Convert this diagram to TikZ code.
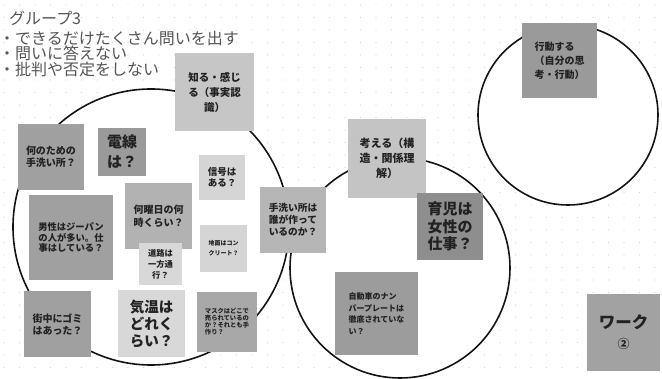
\documentclass[tikz,border=0pt]{standalone}
\usepackage{fontspec}
\newfontfamily\jp{Noto Sans CJK JP}
\definecolor{dotc}{HTML}{D4D4D4}
\definecolor{titlec}{HTML}{555555}
\definecolor{txt}{HTML}{222222}
\definecolor{cA}{HTML}{C6C6C6}
\definecolor{cB}{HTML}{A0A0A0}
\definecolor{cC}{HTML}{9A9A9A}
\definecolor{cD}{HTML}{B2B2B2}
\definecolor{cE}{HTML}{D5D5D5}
\definecolor{cF}{HTML}{D8D8D8}
\definecolor{cG}{HTML}{A8A8A8}
\definecolor{cH}{HTML}{B6B6B6}
\definecolor{cI}{HTML}{C4C4C4}
\definecolor{cJ}{HTML}{8E8E8E}
\definecolor{cK}{HTML}{9C9C9C}
\definecolor{cL}{HTML}{A2A2A2}
\newcommand{\myfs}[2]{\fontsize{#1pt}{#2pt}\selectfont}
\begin{document}
\begin{tikzpicture}[x=1pt,y=-1pt,
  ring/.style={circle, draw=black!92, line width=1.6pt, fill=white, inner sep=0pt},
  note/.style={rectangle, inner sep=0pt, align=center, text=txt},
  sz/.style 2 args={minimum width=#1pt, minimum height=#2pt},
  ttl/.style={anchor=west, inner sep=0pt, text=titlec, font=\jp\myfs{16}{18}}
]
\useasboundingbox (0,0) rectangle (662,379);
\fill[white] (0,0) rectangle (662,379);
% dot grid
\foreach \i in {0,...,42}{
  \foreach \j in {0,...,30}{
    \fill[dotc] (4+\i*15.5, 5+\j*12.5) circle (0.7pt);
  }
}
% circles
\node[ring, minimum size=276pt] (cl) at (151,227) {};
\node[ring, minimum size=220pt] (cm) at (400,268) {};
\node[ring, minimum size=180pt] (cr) at (568,115) {};
% title
\node[ttl] (t1) at (9,18.5) {グループ3};
\node[ttl] (t2) at (-1,38) {・できるだけたくさん問いを出す};
\node[ttl] (t3) at (-1,53.5) {・問いに答えない};
\node[ttl] (t4) at (-1,69) {・批判や否定をしない};
% notes
\node[note, sz={79}{78}, fill=cA, font=\jp\bfseries\myfs{10.5}{15}] (know) at (214.5,92) {知る・感じ\\る（事実認\\識）};
\node[note, sz={66}{66}, fill=cB, font=\jp\bfseries\myfs{10}{12}] (why) at (51,157) {何のための\\手洗い所？};
\node[note, sz={48}{48}, fill=cC, font=\jp\bfseries\myfs{15}{20}] (densen) at (122,152) {電線\\は？};
\node[note, sz={84}{85}, fill=cB, font=\jp\bfseries\myfs{9.3}{10.5}] (dansei) at (71,237.5) {男性はジーパン\\の人が多い。仕\\事はしている？};
\node[note, sz={67}{66}, fill=cD, font=\jp\bfseries\myfs{10}{13}] (youbi) at (158.5,216) {何曜日の何\\時くらい？};
\node[note, sz={46}{45}, fill=cE, font=\jp\bfseries\myfs{9.5}{11}] (shingou) at (222,177.5) {信号は\\ある？};
\node[note, sz={43}{42}, fill=cF, font=\jp\bfseries\myfs{8.3}{11}] (douro) at (160.5,264) {道路は\\一方通\\行？};
\node[note, sz={47}{47}, fill=cE, font=\jp\bfseries\myfs{6}{10}] (jimen) at (223.5,248.5) {地面はコン\\クリート？};
\node[note, sz={67}{67}, fill=cF, font=\jp\bfseries\myfs{14.5}{17}] (kion) at (151.5,323.5) {気温は\\どれく\\らい？};
\node[note, sz={60}{60}, fill=cG, align=left, font=\jp\bfseries\myfs{6.3}{7}] (mask) at (227,322) {マスクはどこで\\売られているの\\か？それとも手\\作り？};
\node[note, sz={67}{66}, fill=cB, font=\jp\bfseries\myfs{10}{12}] (machi) at (57.5,324) {街中にゴミ\\はあった？};
\node[note, sz={66}{66}, fill=cH, font=\jp\bfseries\myfs{9.7}{12}] (tearai) at (293,220) {手洗い所は\\誰が作って\\いるのか？};
\node[note, sz={78}{79}, fill=cI, font=\jp\bfseries\myfs{11}{15}] (kangae) at (387,158.5) {考える（構\\造・関係理\\解）};
\node[note, sz={66}{67}, fill=cJ, font=\jp\bfseries\myfs{15}{17.5}] (ikuji) at (450,226.5) {育児は\\女性の\\仕事？};
\node[note, sz={83}{83}, fill=cK, align=left, font=\jp\bfseries\myfs{8}{11.5}] (jidou) at (376.5,313.5) {自動車のナン\\バープレートは\\徹底されていな\\い？};
\node[note, sz={75}{75}, fill=cC, align=left, font=\jp\bfseries\myfs{10}{14}] (koudou) at (559.5,60.5) {行動する\\（自分の思\\考・行動）};
\node[note, sz={73}{77}, fill=cL, font=\jp\bfseries\myfs{16.5}{20}] (work) at (623.5,332.5) {ワーク\\{\myfs{12}{20}②}};
\end{tikzpicture}
\end{document}
